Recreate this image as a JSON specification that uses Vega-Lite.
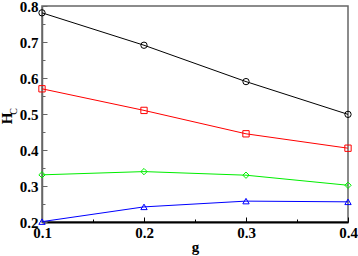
{
  "$schema": "https://vega.github.io/schema/vega-lite/v6.json",
  "width": 306,
  "height": 216,
  "autosize": "none",
  "padding": {"left": 42, "top": 6, "right": 10, "bottom": 34},
  "config": {
    "view": {"stroke": "#666666", "strokeWidth": 1.5},
    "font": "Liberation Serif",
    "axis": {"grid": false, "labelFont": "Liberation Serif", "titleFont": "Liberation Serif", "labelFontWeight": "bold", "labelFontSize": 15, "labelColor": "black", "titleColor": "black", "labelOverlap": false, "labelFlush": false, "labelBound": false}
  },
  "data": {
    "values": [
      {"s": "a", "g": 0.1, "hc": 0.781},
      {"s": "a", "g": 0.2, "hc": 0.691},
      {"s": "a", "g": 0.3, "hc": 0.59},
      {"s": "a", "g": 0.4, "hc": 0.499},
      {"s": "b", "g": 0.1, "hc": 0.57},
      {"s": "b", "g": 0.2, "hc": 0.51},
      {"s": "b", "g": 0.3, "hc": 0.445},
      {"s": "b", "g": 0.4, "hc": 0.405},
      {"s": "c", "g": 0.1, "hc": 0.331},
      {"s": "c", "g": 0.2, "hc": 0.34},
      {"s": "c", "g": 0.3, "hc": 0.33},
      {"s": "c", "g": 0.4, "hc": 0.302},
      {"s": "d", "g": 0.1, "hc": 0.201},
      {"s": "d", "g": 0.2, "hc": 0.242},
      {"s": "d", "g": 0.3, "hc": 0.258},
      {"s": "d", "g": 0.4, "hc": 0.256}
    ]
  },
  "layer": [
    {
      "mark": {"type": "line", "strokeWidth": 1},
      "encoding": {
        "x": {"field": "g", "type": "quantitative", "scale": {"domain": [0.1, 0.4], "nice": false, "zero": false},
          "axis": {"values": [0.1, 0.15, 0.2, 0.25, 0.3, 0.35, 0.4],
            "labelExpr": "abs(datum.value*10 - round(datum.value*10)) < 0.01 ? format(datum.value, '.1f') : ''",
            "tickSize": {"condition": {"test": "abs(datum.value*10 - round(datum.value*10)) < 0.01", "value": -5}, "value": -3},
            "tickColor": "black", "domainColor": "black", "domainWidth": 2, "labelPadding": 8,
            "title": "g", "titleFontSize": 15, "titleFontWeight": "bold", "titleX": 153, "titleY": 29, "titleBaseline": "alphabetic", "titleAlign": "center"}},
        "y": {"field": "hc", "type": "quantitative", "scale": {"domain": [0.2, 0.8], "nice": false, "zero": false},
          "axis": {"values": [0.2, 0.25, 0.3, 0.35, 0.4, 0.45, 0.5, 0.55, 0.6, 0.65, 0.7, 0.75, 0.8],
            "labelExpr": "abs(datum.value*10 - round(datum.value*10)) < 0.01 ? format(datum.value, '.1f') : ''",
            "tickSize": {"condition": {"test": "abs(datum.value*10 - round(datum.value*10)) < 0.01", "value": -5}, "value": -3},
            "tickColor": "#666666", "domainColor": "#666666", "domainWidth": 1.5, "labelPadding": 9,
            "title": "H", "titleFontSize": 15, "titleFontWeight": "bold", "titleX": -36, "titleY": 112, "titleAngle": -90, "titleAlign": "center", "titleBaseline": "middle"}},
        "color": {"field": "s", "type": "nominal", "scale": {"domain": ["a", "b", "c", "d"], "range": ["#000000", "#ff0000", "#00ee00", "#0000ff"]}, "legend": null}
      }
    },
    {
      "mark": {"type": "point", "filled": false, "size": 40, "strokeWidth": 1, "opacity": 1},
      "encoding": {
        "x": {"field": "g", "type": "quantitative"},
        "y": {"field": "hc", "type": "quantitative",
          "axis": {"orient": "left", "labels": false, "domain": false, "ticks": false, "offset": 0, "title": "C", "titleFontSize": 10, "titleFontWeight": "normal", "titleX": -29, "titleY": 105, "titleAngle": -90, "titleAlign": "center", "titleBaseline": "middle"}},
        "color": {"field": "s", "type": "nominal", "legend": null},
        "shape": {"field": "s", "type": "nominal", "scale": {"domain": ["a", "b", "c", "d"], "range": ["circle", "square", "diamond", "triangle-up"]}, "legend": null}
      }
    }
  ],
  "resolve": {"axis": {"y": "independent"}}
}
